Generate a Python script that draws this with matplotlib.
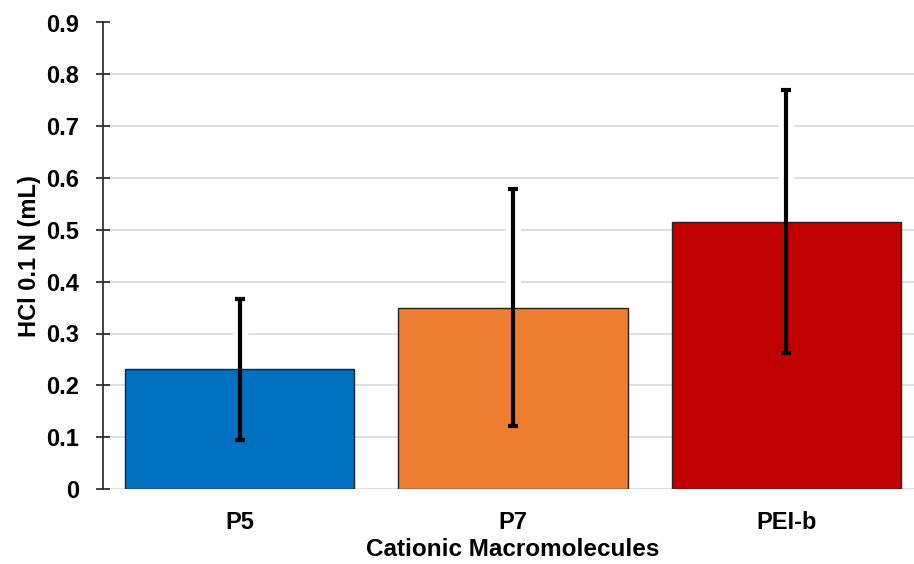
import matplotlib
matplotlib.use("Agg")
from matplotlib import pyplot as plt
import numpy as np

categories = ["P5", "P7", "PEI-b"]
values = [0.231, 0.350, 0.516]
errors = [0.136, 0.229, 0.253]
colors = ["#0070C0", "#ED7D31", "#C00000"]

plt.rcParams["font.family"] = ["Liberation Sans", "DejaVu Sans"]
plt.rcParams["font.weight"] = "bold"

fig = plt.figure(figsize=(9.14, 5.64), dpi=100)
ax = fig.add_axes([103 / 914, 75 / 564, 820 / 914, 466.5 / 564])

x_pos = np.arange(len(categories))
ax.bar(x_pos, values, width=0.84, color=colors, edgecolor="#222222", linewidth=1.0, zorder=2)
# white glow behind the error bars, covers the gridlines only
ax.errorbar(x_pos, values, yerr=errors, fmt="none", ecolor="white",
            elinewidth=11, capsize=0, zorder=1.5)
ax.errorbar(x_pos, values, yerr=errors, fmt="none", ecolor="black",
            elinewidth=3, capsize=3.3, capthick=3, zorder=3)

ax.set_xlim(-0.5, 2.5)
ax.set_ylim(0, 0.9)
ax.set_yticks(np.arange(0, 0.91, 0.1))
ax.set_yticklabels(["0"] + [f"{v:.1f}" for v in np.arange(0.1, 0.91, 0.1)], fontsize=17, fontweight="bold")
ax.set_xticks(x_pos)
ax.set_xticklabels(categories, fontsize=17, fontweight="bold")
ax.tick_params(axis="x", length=0, pad=16)
ax.tick_params(axis="y", length=10, width=1.2, direction="inout", color="#222222", pad=12)

ax.yaxis.grid(True, color="#d9d9d9", linewidth=1.2, zorder=0)
ax.set_axisbelow(True)
for side in ["top", "right", "bottom"]:
    ax.spines[side].set_visible(False)
ax.spines["left"].set_color("#222222")
ax.spines["left"].set_linewidth(1.2)

ax.set_xlabel("Cationic Macromolecules", fontsize=17.5, fontweight="bold", labelpad=3)
ax.set_ylabel("HCl 0.1 N (mL)", fontsize=17, fontweight="bold", labelpad=4)

plt.savefig("out.png", dpi=100)
